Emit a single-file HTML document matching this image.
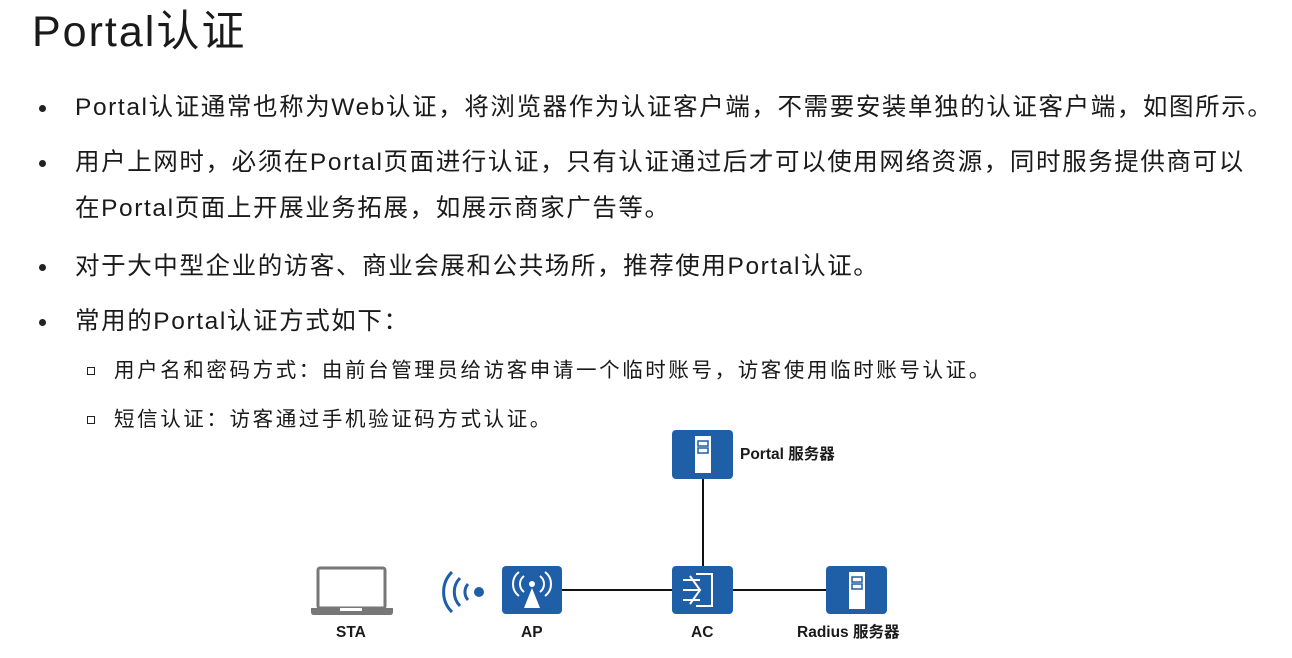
<!DOCTYPE html>
<html><head><meta charset="utf-8"><style>
body{margin:0;width:1292px;height:658px;background:#fff;position:relative;overflow:hidden;font-family:"Liberation Sans","Noto Sans CJK SC",sans-serif;color:#1a1a1a}
.t{position:absolute;white-space:nowrap;line-height:1}
.m{font-size:24.5px;letter-spacing:1.6px}
.n{font-size:20.5px;letter-spacing:2.6px}
.b{position:absolute;width:7px;height:7px;border-radius:50%;background:#222}
.s{position:absolute;width:6px;height:6px;border:1.5px solid #222}
.l{font-weight:bold;font-size:15.5px}
</style></head><body>
<div class="t" style="left:32px;top:11px;font-size:43px;letter-spacing:2px">Portal认证</div>
<div class="b" style="left:39px;top:105px"></div>
<div class="t m" style="left:75px;top:96px">Portal认证通常也称为Web认证，将浏览器作为认证客户端，不需要安装单独的认证客户端，如图所示。</div>
<div class="b" style="left:39px;top:160px"></div>
<div class="t m" style="left:75px;top:151px">用户上网时，必须在Portal页面进行认证，只有认证通过后才可以使用网络资源，同时服务提供商可以</div>
<div class="t m" style="left:75px;top:197px">在Portal页面上开展业务拓展，如展示商家广告等。</div>
<div class="b" style="left:39px;top:264px"></div>
<div class="t m" style="left:75px;top:255px">对于大中型企业的访客、商业会展和公共场所，推荐使用Portal认证。</div>
<div class="b" style="left:39px;top:319px"></div>
<div class="t m" style="left:75px;top:310px">常用的Portal认证方式如下：</div>
<div class="s" style="left:87px;top:367px"></div>
<div class="t n" style="left:114px;top:361px">用户名和密码方式：由前台管理员给访客申请一个临时账号，访客使用临时账号认证。</div>
<div class="s" style="left:87px;top:416px"></div>
<div class="t n" style="left:114px;top:410px">短信认证：访客通过手机验证码方式认证。</div>
<svg style="position:absolute;left:0;top:0" width="1292" height="658">
<g stroke="#111" stroke-width="2">
<line x1="703" y1="478" x2="703" y2="566"/>
<line x1="562" y1="590" x2="672" y2="590"/>
<line x1="733" y1="590" x2="826" y2="590"/>
</g>
<g fill="#1f5fa8">
<rect x="672" y="430" width="61" height="49" rx="4"/>
<rect x="502" y="566" width="60" height="48" rx="4"/>
<rect x="672" y="566" width="61" height="48" rx="4"/>
<rect x="826" y="566" width="61" height="48" rx="4"/>
</g>
<g fill="#fff"><rect x="695" y="436" width="16" height="37"/><rect x="849" y="572" width="16" height="37"/></g>
<g fill="none" stroke="#1f5fa8" stroke-width="1.5"><rect x="698" y="441" width="10" height="5"/><rect x="698" y="448" width="10" height="5"/><rect x="852" y="577" width="10" height="5"/><rect x="852" y="584" width="10" height="5"/></g>
<path d="M532 588 L524 608 L540 608 Z" fill="#fff"/><circle cx="532" cy="584" r="3" fill="#fff"/>
<g fill="none" stroke="#fff" stroke-width="2">
<path d="M524 576 A10 10 0 0 0 524 592"/><path d="M540 576 A10 10 0 0 1 540 592"/>
<path d="M519 572 A15 15 0 0 0 519 596"/><path d="M545 572 A15 15 0 0 1 545 596"/>
<path d="M696 574 H712 V606 H696"/><path d="M683 580 H700 M683 590 H700 M683 600 H700 M690 576 L700 590 L690 604"/>
</g>
<g fill="none" stroke="#1f5fa8" stroke-width="3">
<path d="M468 584 A12 12 0 0 0 468 600"/><path d="M460 578 A20 20 0 0 0 460 606"/><path d="M452 572 A28 28 0 0 0 452 612"/>
</g>
<circle cx="479" cy="592" r="5" fill="#1f5fa8"/>
<rect x="318" y="568" width="67" height="40" rx="2" fill="none" stroke="#777" stroke-width="3"/>
<path d="M311 608 H393 V612 Q393 615 390 615 H314 Q311 615 311 612 Z" fill="#777"/>
<rect x="340" y="608" width="22" height="3" fill="#fff"/>
</svg>
<div class="t l" style="left:740px;top:447px">Portal 服务器</div>
<div class="t l" style="left:336px;top:625px">STA</div>
<div class="t l" style="left:521px;top:625px">AP</div>
<div class="t l" style="left:691px;top:625px">AC</div>
<div class="t l" style="left:797px;top:625px">Radius 服务器</div>
</body></html>
